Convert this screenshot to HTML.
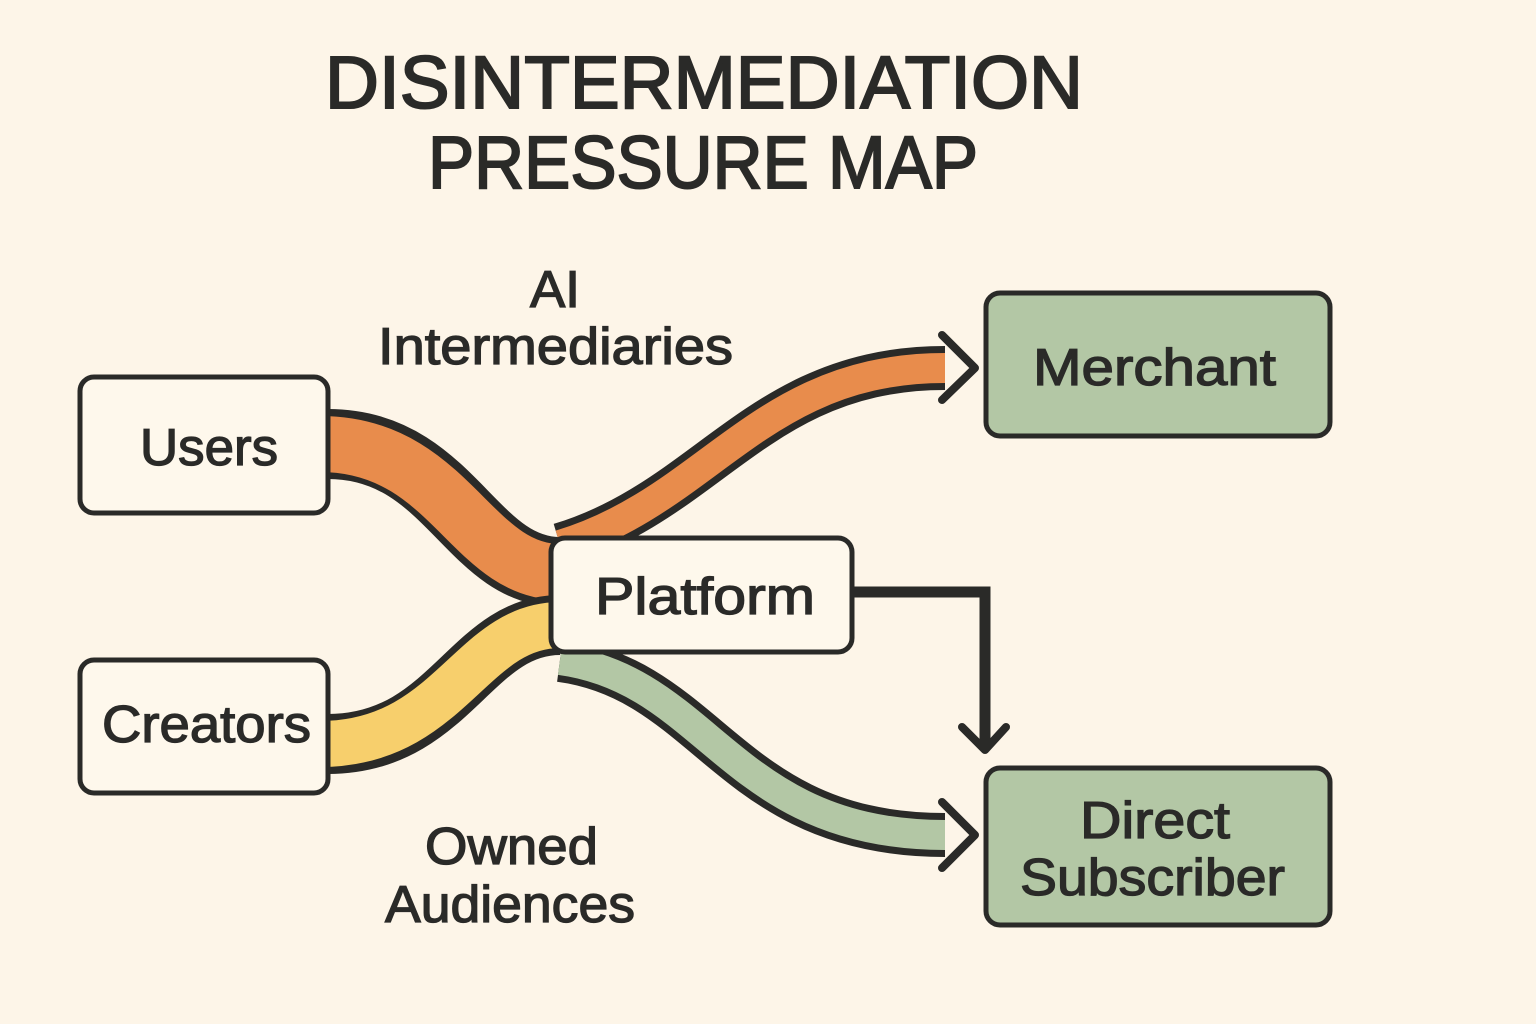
<!DOCTYPE html>
<html><head><meta charset="utf-8"><style>
html,body{margin:0;padding:0;background:#fdf5e8;}
svg{display:block}
text{font-family:"Liberation Sans",sans-serif;fill:#2a2a28;}
</style></head><body>
<svg width="1536" height="1024" viewBox="0 0 1536 1024" xmlns="http://www.w3.org/2000/svg">
<rect width="1536" height="1024" fill="#fdf5e8"/>
<text x="325" y="108" font-size="74" textLength="758" lengthAdjust="spacingAndGlyphs" stroke="#2a2a28" stroke-width="2">DISINTERMEDIATION</text>
<text x="428" y="188" font-size="74" textLength="550" lengthAdjust="spacingAndGlyphs" stroke="#2a2a28" stroke-width="2">PRESSURE MAP</text>

<!-- ribbons -->
<g fill="none" stroke-linecap="butt">
  <path d="M328 444 C450 444 470 572 560 572" stroke="#2a2a28" stroke-width="70"/>
  <path d="M320 444 C450 444 470 572 560 572" stroke="#e88c4c" stroke-width="56"/>
  <path d="M560 545 C710 500 760 368 945 368" stroke="#2a2a28" stroke-width="44"/>
  <path d="M560 545 C710 500 760 368 945 368" stroke="#e88c4c" stroke-width="30"/>
  <path d="M328 744 C450 744 470 625 560 625" stroke="#2a2a28" stroke-width="60"/>
  <path d="M320 744 C450 744 470 625 560 625" stroke="#f7cf6c" stroke-width="46"/>
  <path d="M560 660 C710 680 730 835 945 835" stroke="#2a2a28" stroke-width="44"/>
  <path d="M560 660 C710 680 730 835 945 835" stroke="#b3c7a5" stroke-width="30"/>
</g>
<g fill="none" stroke="#2a2a28" stroke-width="8" stroke-linecap="round" stroke-linejoin="round">
  <polyline points="942,335 975,368 942,400"/>
  <polyline points="942,802 975,835 942,868"/>
  <polyline points="962,727 985,750 1006,727"/>
</g>
<polyline points="850,592 985,592 985,748" fill="none" stroke="#2a2a28" stroke-width="11" stroke-linejoin="miter"/>

<!-- boxes -->
<g stroke="#2a2a28" stroke-width="5">
  <rect x="80" y="377" width="248" height="136" rx="14" fill="#fef8ec"/>
  <rect x="80" y="660" width="248" height="133" rx="14" fill="#fef8ec"/>
  <rect x="551" y="538" width="301" height="114" rx="14" fill="#fef8ec"/>
  <rect x="986" y="293" width="344" height="143" rx="14" fill="#b3c7a5"/>
  <rect x="986" y="768" width="344" height="157" rx="14" fill="#b3c7a5"/>
</g>

<g font-size="52" stroke="#2a2a28" stroke-width="1.3">
<text x="140" y="465" textLength="138" lengthAdjust="spacingAndGlyphs">Users</text>
<text x="102" y="742" textLength="209" lengthAdjust="spacingAndGlyphs">Creators</text>
<text x="595" y="614" textLength="220" lengthAdjust="spacingAndGlyphs">Platform</text>
<text x="1033" y="385" textLength="243" lengthAdjust="spacingAndGlyphs">Merchant</text>
<text x="1080" y="838" textLength="150" lengthAdjust="spacingAndGlyphs">Direct</text>
<text x="1020" y="895" textLength="265" lengthAdjust="spacingAndGlyphs">Subscriber</text>
<text x="530" y="307" textLength="50" lengthAdjust="spacingAndGlyphs">AI</text>
<text x="378" y="364" textLength="355" lengthAdjust="spacingAndGlyphs">Intermediaries</text>
<text x="425" y="864" textLength="173" lengthAdjust="spacingAndGlyphs">Owned</text>
<text x="385" y="922" textLength="250" lengthAdjust="spacingAndGlyphs">Audiences</text>
</g>
</svg>
</body></html>
